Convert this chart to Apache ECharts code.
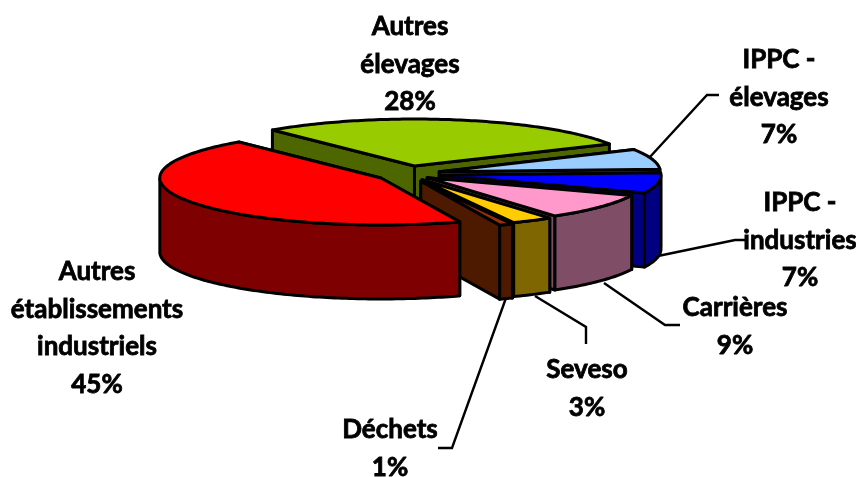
<!DOCTYPE html>
<html><head><meta charset="utf-8">
<style>html,body{margin:0;padding:0;background:#fff}#c{width:856px;height:477px}</style>
<script src="https://cdn.jsdelivr.net/npm/echarts@6/dist/echarts.min.js"></script>
</head><body><div id="c"></div>
<script>
// Data, clockwise from the back-left edge of the pie
const categories = ['Autres élevages','IPPC - élevages','IPPC - industries','Carrières','Seveso','Déchets','Autres établissements industriels'];
const values = [28.3,7,7,9,3,1,44.7];
const topColors = ['#99CC00','#99CCFF','#0000FF','#FF99CC','#FFCC00','#993300','#FF0000'];
const sideColors = ['#4D6600','#4D667F','#000080','#804D66','#806600','#4D1A00','#7F0000'];
const labelLines = [['Autres','élevages'],['IPPC -','élevages'],['IPPC -','industries'],['Carrières'],['Seveso'],['Déchets'],['Autres','établissements','industriels']];

// Layout of the projected pie
const startAngle = 130, cx = 408.4, cy = 173.9, rx = 221, ry = 47, depth = 74;
const explodeX = 32, explodeY = 8;
const explodeFactor = [1,1,1,0.75,0.85,1,1];
const labelCenters = [[410,27],[779,60],[800,203],[735,308],[587,370],[390,430],[97,272]];
const lineHeight = 37.5;
const leaders = [null,
  [[649,158],[707,95],[719,95]],
  [[658,256],[735,240],[748,240]],
  [[604,283],[665,325],[680,325]],
  [[535,296],[586,327],[586,344]],
  [[506,298],[452,448],[438,448]],
  null];

const total = values.reduce((a,b)=>a+b,0);
const rad = d => d*Math.PI/180;

function renderSlice(params, api){
  const i = api.value(0);
  let before = 0;
  for(let k=0;k<i;k++) before += values[k];
  const v = api.value(1);
  const a0 = startAngle - before/total*360;      // counter-clockwise edge
  const a1 = a0 - v/total*360;                   // clockwise edge
  const mid = (a0+a1)/2, f = explodeFactor[i];
  const ox = cx + explodeX*f*Math.cos(rad(mid));
  const oy = cy - explodeY*f*Math.sin(rad(mid));
  const pt = (a,d=0)=>[ox+rx*Math.cos(rad(a)), oy-ry*Math.sin(rad(a))+d];
  const style = fill=>({fill, stroke:'#000', lineWidth:3, lineJoin:'round'});
  const poly = (points,fill)=>({type:'polygon', shape:{points}, style:style(fill), silent:true});
  const children = [];
  // radial cut faces
  [a0,a1].forEach(a=>{
    children.push(poly([[ox,oy],pt(a),pt(a,depth),[ox,oy+depth]], sideColors[i]));
  });
  // outer wall: only the part facing the viewer (sin<0)
  const arc = [];
  for(let a=a0;a>=a1-0.001;a-=1){ arc.push(a); }
  arc.push(a1);
  const visible = arc.map(a=>((a%360)+360)%360).filter(a=>a>=180);
  if(visible.length>1){
    const front = visible.map(a=>pt(a));
    const back = visible.slice().reverse().map(a=>pt(a,depth));
    children.push(poly(front.concat(back), sideColors[i]));
  }
  // top face
  children.push(poly([[ox,oy]].concat(arc.map(a=>pt(a))), topColors[i]));
  return {type:'group', children};
}

const graphics = [];
categories.forEach((c,i)=>{
  const pct = Math.round(values[i]/total*100)+'%';
  const lines = labelLines[i].concat([pct]);
  lines.forEach((t,j)=>{
    graphics.push({type:'text', x:labelCenters[i][0], y:labelCenters[i][1]+j*lineHeight, silent:true,
      style:{text:t, fill:'#000', textAlign:'center', textVerticalAlign:'middle',
        font:'bold 26px Lato, "Noto Sans", sans-serif', stroke:'#000', lineWidth:0.8}});
  });
  if(leaders[i]) graphics.push({type:'polyline', shape:{points:leaders[i]}, silent:true,
    style:{fill:'none', stroke:'#000', lineWidth:2.4}});
});

const chart = echarts.init(document.getElementById('c'), null, {renderer:'canvas'});
chart.setOption({
  animation:false,
  backgroundColor:'#fff',
  graphic:graphics,
  series:[{type:'custom', coordinateSystem:'none', renderItem:renderSlice, silent:true,
    data:values.map((v,i)=>[i,v]), encode:{value:1}, clip:false, z:5}]
});
</script></body></html>
